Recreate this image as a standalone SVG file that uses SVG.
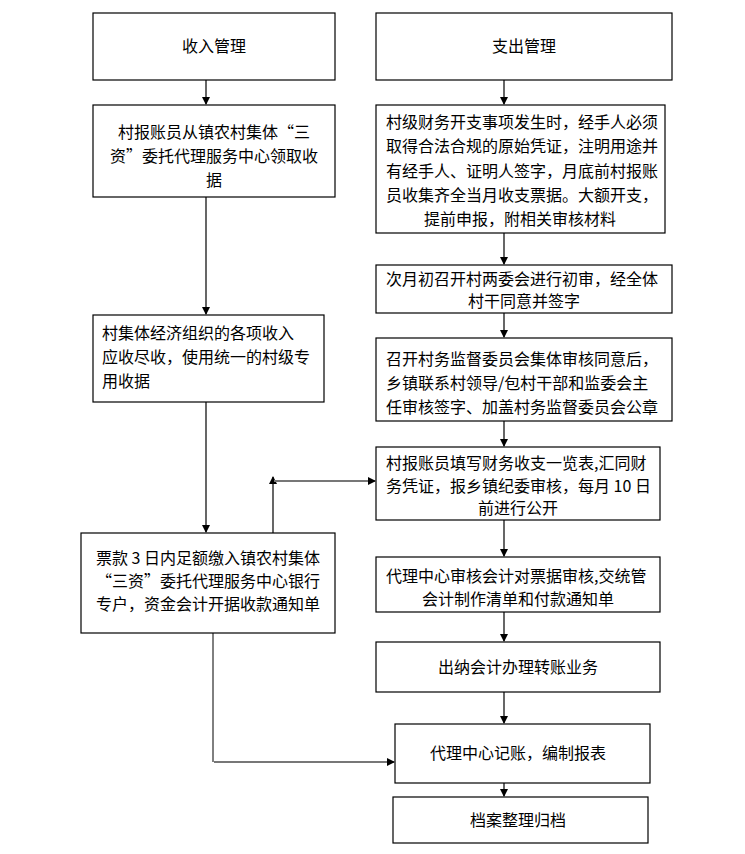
<svg xmlns="http://www.w3.org/2000/svg" width="745" height="854" viewBox="0 0 745 854">
<style>
rect{fill:#fff;stroke:#000;stroke-width:1.2}
text{font-family:"Noto Sans CJK SC",sans-serif;font-size:16px;fill:#000}
.c{text-anchor:middle}
.k{stroke:#000;stroke-width:1.2;fill:none;marker-end:url(#a)}
.g{stroke:#777;stroke-width:2;fill:none;marker-end:url(#a)}
</style>
<defs><marker id="a" markerWidth="8" markerHeight="8" refX="7" refY="4" orient="auto" markerUnits="userSpaceOnUse"><path d="M0,0 L8,4 L0,8 z" fill="#000"/></marker></defs>
<g id="connectors">
<path class="k" d="M206,80 V104"/>
<path class="k" d="M206,197 V314"/>
<path class="k" d="M206,402 V532"/>
<path class="k" d="M504,80 V104"/>
<path class="k" d="M504,233 V264"/>
<path class="k" d="M504,313 V337"/>
<path class="k" d="M504,421 V446"/>
<path class="k" d="M504,520 V556"/>
<path class="k" d="M504,612 V641"/>
<path class="k" d="M504,692 V723"/>
<path class="k" d="M504,783 V796"/>
<path class="k" d="M273,533 V477"/>
<path class="g" d="M274,481 H375"/>
<path stroke="#000" fill="none" d="M213,633 V762"/>
<path class="g" d="M214,762 H394"/>
</g>
<g id="n1"><rect x="93" y="13" width="242" height="67"/><text class="c" x="214" y="52">收入管理</text></g>
<g id="n2"><rect x="376" y="13" width="296" height="67"/><text class="c" x="524" y="52">支出管理</text></g>
<g id="n3"><rect x="93" y="105" width="242" height="92"/><text class="c" x="214" y="138">村报账员从镇农村集体“三</text><text class="c" x="214" y="162">资”委托代理服务中心领取收</text><text class="c" x="214" y="186">据</text></g>
<g id="n4"><rect x="376" y="105" width="289" height="128"/><text x="386" y="128">村级财务开支事项发生时，经手人必须</text><text x="386" y="152">取得合法合规的原始凭证，注明用途并</text><text x="386" y="177">有经手人、证明人签字，月底前村报账</text><text x="386" y="201">员收集齐全当月收支票据。大额开支，</text><text class="c" x="520" y="225">提前申报，附相关审核材料</text></g>
<g id="n5"><rect x="376" y="265" width="296" height="48"/><text x="386" y="285" font-size="15.5">次月初召开村两委会进行初审，经全体</text><text class="c" x="524" y="307" font-size="15.5">村干同意并签字</text></g>
<g id="n6"><rect x="93" y="315" width="231" height="87"/><text x="102" y="339">村集体经济组织的各项收入</text><text x="102" y="363">应收尽收，使用统一的村级专</text><text x="102" y="387">用收据</text></g>
<g id="n7"><rect x="376" y="338" width="296" height="83"/><text x="386" y="365">召开村务监督委员会集体审核同意后，</text><text x="386" y="389">乡镇联系村领导/包村干部和监委会主</text><text x="386" y="413">任审核签字、加盖村务监督委员会公章</text></g>
<g id="n8"><rect x="376" y="447" width="284" height="73"/><text x="386" y="469">村报账员填写财务收支一览表,汇同财</text><text x="386" y="492">务凭证，报乡镇纪委审核，每月 10 日</text><text class="c" x="518" y="514">前进行公开</text></g>
<g id="n9"><rect x="81" y="533" width="254" height="100"/><text class="c" x="208" y="564">票款 3 日内足额缴入镇农村集体</text><text class="c" x="208" y="587">“三资”委托代理服务中心银行</text><text class="c" x="208" y="610">专户，资金会计开据收款通知单</text></g>
<g id="n10"><rect x="376" y="557" width="284" height="55"/><text x="386" y="582">代理中心审核会计对票据审核,交统管</text><text class="c" x="518" y="605">会计制作清单和付款通知单</text></g>
<g id="n11"><rect x="376" y="642" width="284" height="50"/><text class="c" x="518" y="673">出纳会计办理转账业务</text></g>
<g id="n12"><rect x="395" y="724" width="255" height="59"/><text class="c" x="518" y="759">代理中心记账，编制报表</text></g>
<g id="n13"><rect x="393" y="797" width="255" height="46"/><text class="c" x="518" y="826">档案整理归档</text></g>
</svg>
